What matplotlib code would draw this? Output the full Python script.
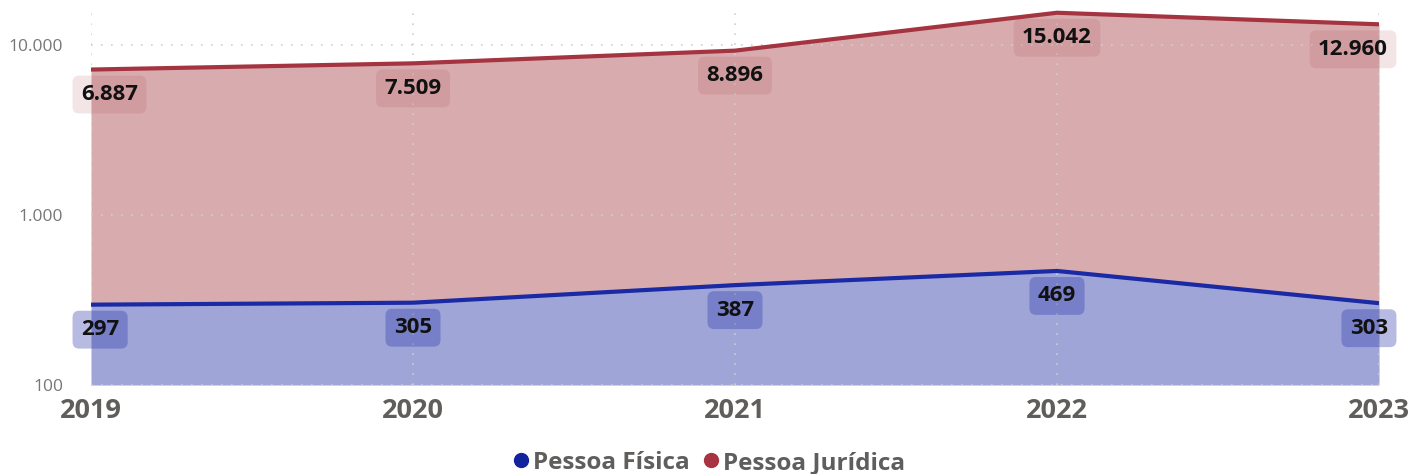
import matplotlib
matplotlib.use("Agg")
import matplotlib.pyplot as plt
from matplotlib.lines import Line2D
import numpy as np

years = [2019, 2020, 2021, 2022, 2023]
pessoa_fisica = [297, 305, 387, 469, 303]
pessoa_juridica = [6887, 7509, 8896, 15042, 12960]
series_names = ["Pessoa Física", "Pessoa Jurídica"]
ytick_values = [100, 1000, 10000]
ytick_labels = ["100", "1.000", "10.000"]

def fmt(v):
    return f"{v:,}".replace(",", ".")

plt.rcParams['font.family'] = ['Open Sans', 'DejaVu Sans']

fig = plt.figure(figsize=(14.11, 4.74), dpi=100)
ax = fig.add_axes([91/1411, 89/474, (1379-91)/1411, (385-10)/474])

pf = np.array(pessoa_fisica, dtype=float)
pj_top = pf + np.array(pessoa_juridica, dtype=float)

pf_line = "#1A2AA4"
pj_line = "#A4343F"
pf_fill = "#A0A5D8"
pj_fill = "#D8ACAF"

ax.set_yscale('log')
ax.set_ylim(100, 16100)
ax.set_xlim(years[0], years[-1])

ax.fill_between(years, 100, pf, color=pf_fill, lw=0, zorder=1)
ax.fill_between(years, pf, pj_top, color=pj_fill, lw=0, zorder=1)
ax.plot(years, pf, color=pf_line, lw=3, zorder=3, solid_joinstyle='round', solid_capstyle='butt')
ax.plot(years, pj_top, color=pj_line, lw=3, zorder=3, solid_joinstyle='round', solid_capstyle='butt')

# grid
for y in ytick_values:
    ax.axhline(y, color="#CFCFCF", lw=1.2, ls=(0, (1, 5)), zorder=2, clip_on=False)
for x in years:
    ax.axvline(x, color="#CFCFCF", lw=1.2, ls=(0, (1, 5)), zorder=2)

for s in ax.spines.values():
    s.set_visible(False)

ax.set_yticks(ytick_values)
ax.set_yticklabels(ytick_labels)
ax.yaxis.set_minor_locator(matplotlib.ticker.NullLocator())
ax.tick_params(axis='y', length=0, pad=20, labelsize=12.5, labelcolor="#777777")
ax.set_xticks(years)
ax.set_xticklabels([str(y) for y in years])
ax.tick_params(axis='x', length=0, pad=9, labelsize=19.5, labelcolor="#605E5C")
for lab in ax.get_xticklabels():
    lab.set_fontweight('bold')

def add_labels(vals, ypos, boxcolor, alpha):
    n = len(vals)
    for i, (x, v, yp) in enumerate(zip(years, vals, ypos)):
        if i == 0:
            ha, dx = 'left', -10
        elif i == n - 1:
            ha, dx = 'right', 9
        else:
            ha, dx = 'center', 0
        ax.annotate(fmt(v), xy=(x, yp), xytext=(dx, -25), textcoords='offset pixels',
                    ha=ha, va='center', fontsize=16, fontweight='bold', color="#111111",
                    zorder=5, annotation_clip=False,
                    bbox=dict(boxstyle='round,pad=0.38,rounding_size=0.3', fc=boxcolor,
                              alpha=alpha, ec='none'))

add_labels(pessoa_fisica, pf, "#2532A9", 0.33)
add_labels(pessoa_juridica, pj_top, "#A4343F", 0.13)

handles = [Line2D([], [], marker='o', ls='none', ms=10, color="#12239E"),
           Line2D([], [], marker='o', ls='none', ms=10, color="#A93340")]
leg = fig.legend(handles, series_names, loc='center', bbox_to_anchor=(707/1411, 1 - 463/474),
                 ncol=2, frameon=False, handletextpad=0.0, columnspacing=0.4,
                 prop={'size': 17.5, 'weight': 'bold'}, handlelength=1.0)
for t in leg.get_texts():
    t.set_color("#605E5C")

fig.savefig("out.png", dpi=100)
